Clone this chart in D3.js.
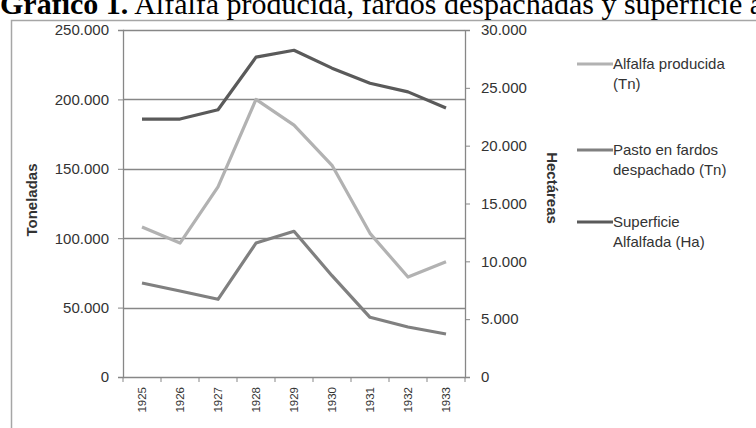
<!DOCTYPE html>
<html>
<head>
<meta charset="utf-8">
<script src="https://cdn.jsdelivr.net/npm/d3@7"></script>
<style>
  body { margin: 0; background: #fff; }
  svg { display: block; }
  text { font-family: "Liberation Sans", Arial, sans-serif; fill: #333; }
</style>
</head>
<body>
<div id="chart"></div>
<script>
var width = 756;
var height = 428;

// data
var years = ["1925", "1926", "1927", "1928", "1929", "1930", "1931", "1932", "1933"];
var alfalfa = [108000, 96500, 137000, 200000, 181500, 152500, 103500, 72000, 83000];
var pasto = [67700, 62000, 56000, 96500, 105000, 73000, 43000, 36000, 31000];
var superficie = [22300, 22300, 23100, 27650, 28250, 26700, 25400, 24650, 23250];
var leftTicks = [0, 50000, 100000, 150000, 200000, 250000];
var rightTicks = [0, 5000, 10000, 15000, 20000, 25000, 30000];

var series = [
  {name: ["Alfalfa producida", "(Tn)"], values: alfalfa, axis: "left", color: "#b2b2b2"},
  {name: ["Pasto en fardos", "despachado (Tn)"], values: pasto, axis: "left", color: "#808080"},
  {name: ["Superficie", "Alfalfada (Ha)"], values: superficie, axis: "right", color: "#5a5a5a"}
];

var plot = {left: 123, right: 465, top: 30, bottom: 377};

var loc = d3.formatLocale({decimal: ",", thousands: ".", grouping: [3], currency: ["", ""]});
var fmt = loc.format(",.0f");

var x = d3.scaleBand()
  .domain(years)
  .range([plot.left, plot.right]);

var yL = d3.scaleLinear().domain([0, 250000]).range([plot.bottom, plot.top]);
var yR = d3.scaleLinear().domain([0, 30000]).range([plot.bottom, plot.top]);

var svg = d3.select("#chart").append("svg")
  .attr("width", width)
  .attr("height", height);

// chart frame
svg.append("path")
  .attr("d", "M11.5,430V20.5H760")
  .attr("fill", "none")
  .attr("stroke", "#a6a6a6")
  .attr("stroke-width", 1.5);

// title (cut at the top and right of the picture, as in the source)
var title = svg.append("text")
  .attr("x", 0)
  .attr("y", 14)
  .style("font-family", "'Liberation Serif', 'Times New Roman', serif")
  .style("font-size", "30px")
  .style("fill", "#000");
title.append("tspan").style("font-weight", "bold").text("Gráfico 1.");
title.append("tspan").text(" Alfalfa producida, fardos despachadas y superficie alfalfada");

// gridlines
svg.append("g")
  .selectAll("line")
  .data(leftTicks.slice(1))
  .enter().append("line")
  .attr("x1", plot.left)
  .attr("x2", plot.right)
  .attr("y1", function(d) { return Math.round(yL(d)) + 0.5; })
  .attr("y2", function(d) { return Math.round(yL(d)) + 0.5; })
  .attr("stroke", "#878787")
  .attr("stroke-width", 1.3);

// axes
var axL = svg.append("g")
  .attr("transform", "translate(" + plot.left + ",0)")
  .call(d3.axisLeft(yL).tickValues(leftTicks).tickFormat(fmt).tickSizeOuter(0).tickSize(5).tickPadding(9));
var axR = svg.append("g")
  .attr("transform", "translate(" + plot.right + ",0)")
  .call(d3.axisRight(yR).tickValues(rightTicks).tickFormat(fmt).tickSizeOuter(0).tickSize(5).tickPadding(11));
var axB = svg.append("g")
  .attr("transform", "translate(0," + plot.bottom + ")")
  .call(d3.axisBottom(x).tickSize(0).tickPadding(0));

// x ticks at band boundaries
axB.selectAll(".bound")
  .data(d3.range(years.length + 1))
  .enter().append("line")
  .attr("class", "bound")
  .attr("x1", function(i) { return plot.left + i * x.step(); })
  .attr("x2", function(i) { return plot.left + i * x.step(); })
  .attr("y1", 0)
  .attr("y2", 5)
  .attr("stroke", "#878787");

axB.selectAll(".tick text")
  .attr("transform", "rotate(-90)")
  .attr("text-anchor", "end")
  .attr("x", -10)
  .attr("y", 0)
  .attr("dy", "0.35em")
  .style("font-size", "11.5px");

[axL, axR, axB].forEach(function(a) {
  a.selectAll(".domain").attr("stroke", "#878787").attr("stroke-width", 1.3);
  a.selectAll(".tick line").attr("stroke", "#878787");
});
axL.selectAll(".tick text").style("font-size", "15px").style("fill", "#333");
axR.selectAll(".tick text").style("font-size", "15px").style("fill", "#333");
axB.selectAll(".tick text").style("fill", "#333");

// axis titles
svg.append("text")
  .attr("transform", "translate(37,200) rotate(-90)")
  .attr("text-anchor", "middle")
  .style("font-size", "15px")
  .style("font-weight", "bold")
  .text("Toneladas");
svg.append("text")
  .attr("transform", "translate(547,188) rotate(90)")
  .attr("text-anchor", "middle")
  .style("font-size", "15px")
  .style("font-weight", "bold")
  .text("Hectáreas");

// lines
series.forEach(function(s) {
  var yy = s.axis === "left" ? yL : yR;
  var line = d3.line()
    .x(function(d, i) { return x(years[i]) + x.bandwidth() / 2; })
    .y(function(d) { return yy(d); });
  svg.append("path")
    .datum(s.values)
    .attr("d", line)
    .attr("fill", "none")
    .attr("stroke", s.color)
    .attr("stroke-width", 3.2)
    .attr("stroke-linejoin", "round");
});

// legend
var legendY = [64, 150, 222];
var legend = svg.append("g");
series.forEach(function(s, i) {
  var g = legend.append("g").attr("transform", "translate(577," + legendY[i] + ")");
  g.append("line")
    .attr("x1", 0).attr("x2", 36)
    .attr("stroke", s.color)
    .attr("stroke-width", 3.2);
  var t = g.append("text")
    .attr("x", 36)
    .attr("y", 5)
    .style("font-size", "15px");
  s.name.forEach(function(n, j) {
    t.append("tspan").attr("x", 36).attr("dy", j === 0 ? 0 : 20).text(n);
  });
});
</script>
</body>
</html>
